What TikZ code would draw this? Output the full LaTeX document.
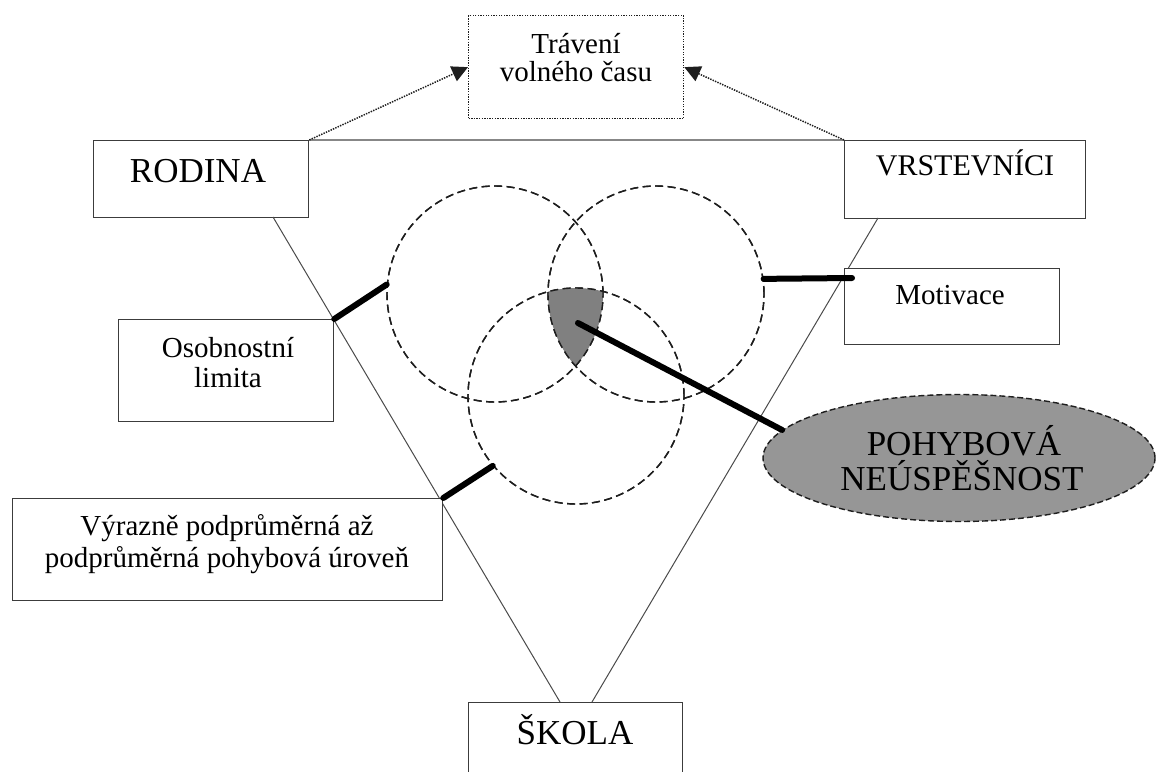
\documentclass[tikz,border=0pt]{standalone}
\usepackage{fontspec}
\setmainfont{Liberation Serif}
\usetikzlibrary{arrows.meta,calc,shapes.geometric}

\definecolor{boxgray}{RGB}{60,60,60}
\definecolor{edgegray}{RGB}{75,75,75}
\definecolor{topgray}{RGB}{135,135,135}
\definecolor{dashgray}{RGB}{30,30,30}
\definecolor{coregray}{RGB}{128,128,128}
\definecolor{ovalgray}{RGB}{150,150,150}

\begin{document}
\begin{tikzpicture}[x=1pt,y=-1pt,
  box/.style={draw=boxgray, line width=1.3pt, fill=white, inner sep=0pt,
    anchor=north west},
  big/.style={font=\fontsize{35}{38}\selectfont, anchor=base, inner sep=0pt},
  mid/.style={font=\fontsize{30}{33}\selectfont, anchor=base, inner sep=0pt},
  small/.style={font=\fontsize{29}{31}\selectfont, anchor=base, inner sep=0pt},
  edge/.style={draw=edgegray, line width=1pt},
  ring/.style={circle, draw=dashgray, line width=1.4pt,
    dash pattern=on 8pt off 4.5pt, minimum size=216pt, inner sep=0pt},
  link/.style={line width=6pt, line cap=round, draw=black},
  dotline/.style={draw=dashgray, line width=1.5pt, dash pattern=on 1.4pt off 1.2pt,
    -{Triangle[length=16pt,width=16pt]}}
]
\useasboundingbox (0,0) rectangle (1158,771);
\clip (0,0) rectangle (1158,771);
\fill[white] (0,0) rectangle (1158,771);

% corner boxes of the triangle
\node[box, minimum width=215pt, minimum height=77pt] (rodina) at (93,140) {};
\node[box, minimum width=241pt, minimum height=78pt] (vrst) at (844,140) {};
\node[box, minimum width=214pt, minimum height=120pt] (skola) at (468,702) {};

% triangle sides
\coordinate (rodinaFoot) at (273,217);
\coordinate (vrstFoot) at (878,218);
\coordinate (skolaL) at (560,702);
\coordinate (skolaR) at (592,702);
\draw[edge] (rodinaFoot) -- (skolaL);
\draw[edge] (vrstFoot) -- (skolaR);
\draw[draw=topgray, line width=2pt] (rodina.north east) -- (vrst.north west);

% overlapping circles and their common part
\node[ring] (c1) at (495,294) {};
\node[ring] (c2) at (656,294) {};
\node[ring] (c3) at (576,396) {};
\begin{scope}
  \clip (495,294) circle[radius=108pt];
  \clip (656,294) circle[radius=108pt];
  \fill[coregray] (576,396) circle[radius=108pt];
\end{scope}
\draw[draw=dashgray, line width=1.4pt, dash pattern=on 8pt off 4.5pt]
  (495,294) circle[radius=108pt]
  (656,294) circle[radius=108pt]
  (576,396) circle[radius=108pt];
\coordinate (core) at (578,323);

% free-time box
\node[box, draw=dashgray, dash pattern=on 1.3pt off 1.3pt,
  minimum width=215pt, minimum height=103pt] (trav) at (468,15) {};
\node[small] (travA) at (576,53) {Trávení};
\node[small] (travB) at (576,81) {volného času};

% side boxes
\node[box, minimum width=215pt, minimum height=102pt] (osob) at (118,319) {};
\node[small] (osobA) at (228,357) {Osobnostní};
\node[small] (osobB) at (228,387) {limita};

\node[box, minimum width=215pt, minimum height=76pt] (motiv) at (844,268) {};
\node[small] (motivT) at (950,304) {Motivace};
\coordinate (motivIn) at (852,278);

\node[box, minimum width=430pt, minimum height=102pt] (vyr) at (12,498) {};
\node[small] (vyrA) at (227,535) {Výrazně podprůměrná až};
\node[small] (vyrB) at (227,567) {podprůměrná pohybová úroveň};

% labels of the corner boxes
\node[big] (rodinaT) at (198,182) {RODINA};
\node[mid] (vrstT) at (965,175) {VRSTEVNÍCI};
\node[big] (skolaT) at (575,744) {ŠKOLA};

% result oval
\node[ellipse, draw=dashgray, fill=ovalgray, line width=1.4pt,
  dash pattern=on 6pt off 3pt, minimum width=392pt, minimum height=127pt,
  inner sep=0pt] (pohyb) at (959,458) {};
\node[big] (pohybA) at (964,455) {POHYBOVÁ};
\node[big] (pohybB) at (962,490) {NEÚSPĚŠNOST};

% thick connectors
\draw[link] (osob.north east) -- (c1.175);
\draw[link] (c2.8) -- (motivIn);
\draw[link] (vyr.north east) -- (c3.220);
\draw[link] (core) -- (pohyb.171);

% dotted arrows to the free-time box
\draw[dotline] (rodina.north east) -- (trav.west);
\draw[dotline] (vrst.north west) -- (trav.east);
\end{tikzpicture}
\end{document}
